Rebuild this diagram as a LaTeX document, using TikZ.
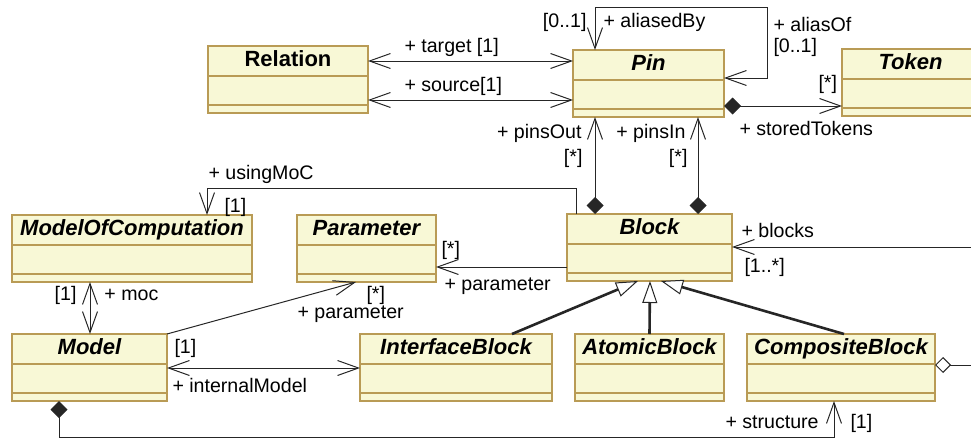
\documentclass[tikz,border=0pt]{standalone}
\usepackage{fontspec}
\setmainfont{Liberation Sans}
\usetikzlibrary{arrows.meta,positioning}

\definecolor{classfill}{RGB}{248,248,214}
\definecolor{classline}{RGB}{185,155,85}

\begin{document}
\begin{tikzpicture}[
    x = 0.5pt, y = -0.5pt, %
    line width = 0.5pt, %
    draw = black!85, %
    nav/.tip = {Straight Barb[length=10.5pt,width=7.5pt]},
    comp/.tip = {Diamond[length=8.5pt,width=8.5pt]},
    aggr/.tip = {Diamond[open,length=8pt,width=8pt,fill=white]},
    gen/.tip = {Triangle[open,length=11pt,width=7.5pt,fill=white,line width=0.5pt]}
    ]

    \tikzset{umlclass/.style={
    draw = classline,
    fill = classfill,
    line width = 0.75pt,
    inner sep = 0pt, outer sep = 0pt,
    anchor = north west,
    text height = 10.25pt, text depth = 23.25pt,
    font = \fontsize{11}{13}\selectfont\bfseries\itshape
    },
    lbl/.style={font=\fontsize{9.8}{11}\selectfont, inner sep=0pt},
    genline/.style={line width=1.3pt, -gen}
    }

    \path[use as bounding box, clip] (0,0) rectangle (971,439);

    \node[umlclass, minimum width=80pt, font=\fontsize{11}{13}\selectfont\bfseries] (rel) at (208,46) {Relation};
    \node[umlclass, minimum width=75.5pt] (pin) at (573,50) {Pin};
    \node[umlclass, minimum width=68.5pt] (tok) at (842,49) {Token};

    \node[umlclass, minimum width=120pt] (moc) at (12,215) {ModelOfComputation};
    \node[umlclass, minimum width=69.5pt, right=22.5pt of moc.north east, anchor=north west] (par) {Parameter};
    \node[umlclass, minimum width=82.5pt] (blk) at (567,214) {Block};

    \node[umlclass, minimum width=77.5pt] (mod) at (12,334) {Model};
    \node[umlclass, minimum width=96pt] (ifb) at (360,334) {InterfaceBlock};
    \node[umlclass, minimum width=74.5pt, right=11.5pt of ifb.north east, anchor=north west] (atb) {AtomicBlock};
    \node[umlclass, minimum width=94pt, right=11.5pt of atb.north east, anchor=north west] (cpb) {CompositeBlock};

    % compartments
    \foreach \c in {rel,pin,tok,moc,par,blk,mod,ifb,atb,cpb}{
      \draw[classline, line width=0.75pt] ([yshift=-15pt]\c.north west) -- ([yshift=-15pt]\c.north east);
      \draw[classline, line width=0.75pt] ([yshift=-29.5pt]\c.north west) -- ([yshift=-29.5pt]\c.north east);
    }

    % Relation -- Pin
    \draw[nav-nav] (rel.east |- 0,61) -- (pin.west |- 0,61);
    \draw[nav-nav] (rel.east |- 0,100) -- (pin.west |- 0,100);
    \node[lbl, anchor=base west] (lTarget) at (404,53) {+ target [1]};
    \node[lbl, anchor=base west] (lSource) at (404,91) {+ source[1]};

    % Pin alias loop
    \draw[nav-nav] (pin.east |- 0,78) -| (767,7) -| (pin.north -| 595,0);
    \node[lbl, anchor=base east] (lAliasedByM) at (587,27) {[0..1]};
    \node[lbl, anchor=base west] (lAliasedBy) at (603,27) {+ aliasedBy};
    \node[lbl, anchor=base west] (lAliasOf) at (773,32) {+ aliasOf};
    \node[lbl, anchor=base west] (lAliasOfM) at (773,53) {[0..1]};

    % Pin -- Token
    \draw[comp-nav] (pin.east |- 0,106) -- (tok.west |- 0,106);
    \node[lbl, anchor=base west] (lTokM) at (818,90) {[*]};
    \node[lbl, anchor=base west] (lTok) at (739,135) {+ storedTokens};

    % Block -- Pin
    \draw[comp-nav] (blk.north -| 595,0) -- (pin.south -| 595,0);
    \draw[comp-nav] (blk.north -| 698,0) -- (pin.south -| 698,0);
    \node[lbl, anchor=base east] (lPinsOut) at (582,138) {+ pinsOut};
    \node[lbl, anchor=base east] (lPinsOutM) at (583,163) {[*]};
    \node[lbl, anchor=base east] (lPinsIn) at (686,138) {+ pinsIn};
    \node[lbl, anchor=base east] (lPinsInM) at (688,163) {[*]};

    % Block -- ModelOfComputation
    \draw[-nav] (blk.north -| 576,0) |- (207,188) -- (moc.north -| 207,0);
    \node[lbl, anchor=base west] (lUsing) at (208,179) {+ usingMoC};
    \node[lbl, anchor=base west] (lUsingM) at (224,212) {[1]};

    % Block -- Parameter
    \draw[-nav] (blk.west |- 0,267) -- (par.east |- 0,267);
    \node[lbl, anchor=base west] (lParM) at (441,255) {[*]};
    \node[lbl, anchor=base west] (lPar) at (444,290) {+ parameter};

    % ModelOfComputation -- Model
    \draw[nav-nav] (moc.south -| 90,0) -- (mod.north -| 90,0);
    \node[lbl, anchor=base east] (lMocM) at (77,300) {[1]};
    \node[lbl, anchor=base west] (lMoc) at (104,300) {+ moc};

    % Model -- Parameter
    \draw[-nav] (mod.north east) -- (par.south -| 356,0);
    \node[lbl, anchor=base west] (lModParM) at (366,300) {[*]};
    \node[lbl, anchor=base west] (lModPar) at (297,318) {+ parameter};
    \node[lbl, anchor=base west] (lModM) at (174,353) {[1]};

    % Model -- InterfaceBlock
    \draw[nav-nav] (mod.east |- 0,368) -- (ifb.west |- 0,368);
    \node[lbl, anchor=base west] (lInternal) at (172,392) {+ internalModel};

    % Model -- CompositeBlock
    \draw[comp-nav] (mod.south -| 59,0) |- (834,437) -- (cpb.south -| 834,0);
    \node[lbl, anchor=base west] (lStruct) at (725,428) {+ structure};
    \node[lbl, anchor=base west] (lStructM) at (850,428) {[1]};

    % generalizations
    \draw[genline] (ifb.north -| 512,0) -- (blk.south -| 638,0);
    \draw[genline] (atb.north) -- (blk.south -| 650,0);
    \draw[genline] (cpb.north -| 844,0) -- (blk.south -| 661,0);

    % CompositeBlock -- Block
    \draw[aggr-nav] (cpb.east |- 0,365) -- (990,365) |- (blk.east |- 0,247);
    \node[lbl, anchor=base west] (lBlocks) at (741,237) {+ blocks};
    \node[lbl, anchor=base west] (lBlocksM) at (744,272) {[1..*]};

\end{tikzpicture}
\end{document}
